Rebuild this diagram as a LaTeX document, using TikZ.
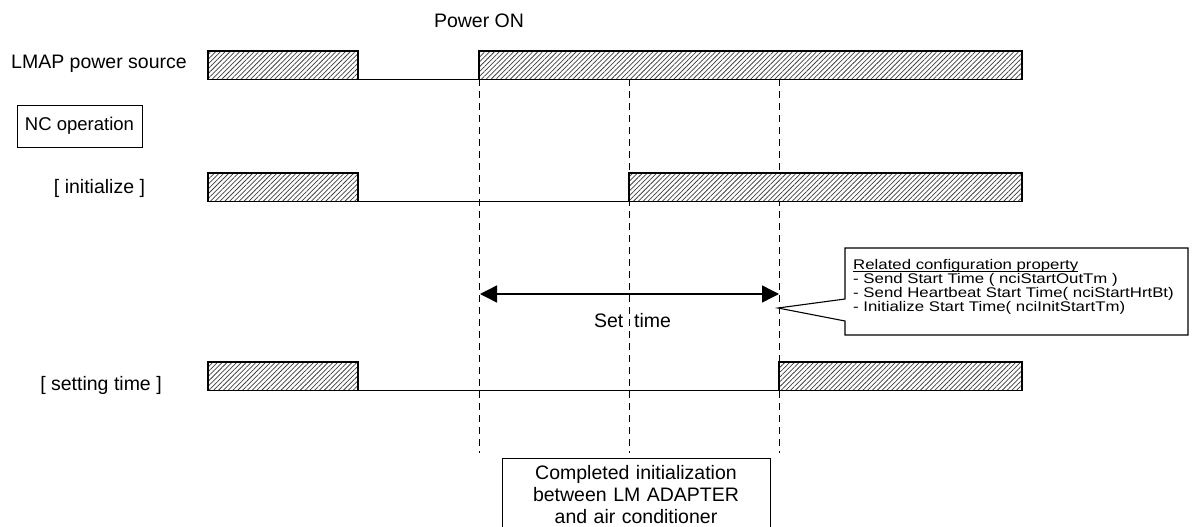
\documentclass[tikz,border=0pt]{standalone}
\usepackage{fontspec}
\setmainfont{Liberation Sans}
\newfontfamily\calfont[FakeStretch=1.2]{Liberation Sans}
\usetikzlibrary{patterns.meta,arrows.meta}
\begin{document}
\begin{tikzpicture}[x=1pt,y=-1pt,
  bar/.style={draw, line width=1.4pt, inner sep=0pt, outer sep=0pt, minimum height=28.5pt,
    anchor=north west, preaction={fill=white},
    pattern={Lines[angle=45,distance=3.4pt,line width=0.75pt]}, pattern color=black!75},
  sig/.style={line width=1.3pt},
  guide/.style={line width=1pt, dash pattern=on 7pt off 5pt},
  lbl/.style={font=\fontsize{19.5}{23}\selectfont, inner sep=0pt},
  cal/.style={font=\calfont\fontsize{14}{14}\selectfont, inner sep=0pt, anchor=base west},
]
\useasboundingbox (0,0) rectangle (1202,527);
\clip (0,0) rectangle (1202,527);

% labels
\node[lbl, anchor=base west] (lmap) at (11,69) {LMAP power source};
\node[lbl, anchor=base] (pon) at (479,28) {Power ON};
\node[draw, line width=1pt, minimum width=125pt, minimum height=42pt, inner sep=0pt,
  font=\fontsize{18.5}{22}\selectfont] (nc) at (79.5,126) {NC operation};
\node[lbl, anchor=base] (init) at (99.5,193) {[ initialize ]};
\node[lbl, anchor=base] (sett) at (101,390) {[ setting time ]};

% guide lines
\coordinate (g1t) at (479,79);  \coordinate (g1b) at (479,453);
\coordinate (g2t) at (629,79);  \coordinate (g2b) at (629,453);
\coordinate (g3t) at (779,79);  \coordinate (g3b) at (779,453);
\draw[guide] (g1t) -- (g1b);
\draw[guide] (g2t) -- (g2b);
\draw[guide] (g3t) -- (g3b);

% power source row
\node[bar, minimum width=150pt] (p1) at (208,51) {};
\node[bar, minimum width=543pt] (p2) at (479,51) {};
\draw[sig] (p1.south east) -- (p2.south west);

% initialize row
\node[bar, minimum width=150pt] (i1) at (208,173) {};
\node[bar, minimum width=393pt] (i2) at (629,173) {};
\draw[sig] (i1.south east) -- (i2.south west);

% setting time row
\node[bar, minimum width=150pt] (s1) at (208,362) {};
\node[bar, minimum width=243pt] (s2) at (779,362) {};
\draw[sig] (s1.south east) -- (s2.south west);

% set time arrow
\coordinate (sa) at (480,294);
\coordinate (sb) at (779,294);
\draw[line width=1.4pt, {Triangle[length=17pt,width=17pt]}-{Triangle[length=17pt,width=17pt]}] (sa) -- (sb);
\node[lbl, anchor=base] (st) at (632.5,327) {Set\ \ time};

% callout
\coordinate (ctip) at (778,308);
\coordinate (cu) at (845,299);
\coordinate (cl) at (845,321);
\draw[line width=1.1pt] (cu) -- (845,248) -- (1188,248) -- (1188,335) -- (845,335) -- (cl) -- (ctip) -- cycle;
\node[cal] (c1) at (853,269) {Related configuration property};
\draw[line width=0.9pt] ([yshift=-2pt]c1.base west) -- ([yshift=-2pt]c1.base east);
\node[cal] (c2) at (853,283) {- Send Start Time ( nciStartOutTm )};
\node[cal] (c3) at (853,297) {- Send Heartbeat Start Time( nciStartHrtBt)};
\node[cal] (c4) at (853,311) {- Initialize Start Time( nciInitStartTm)};

% completed box
\node[draw, line width=1pt, anchor=north, minimum width=268pt, text width=260pt, align=center,
  inner xsep=4pt, inner ysep=7pt, font=\fontsize{19.5}{22}\selectfont] (done) at (636,458)
  {Completed initialization\\between LM ADAPTER\\and air conditioner};
\end{tikzpicture}
\end{document}
